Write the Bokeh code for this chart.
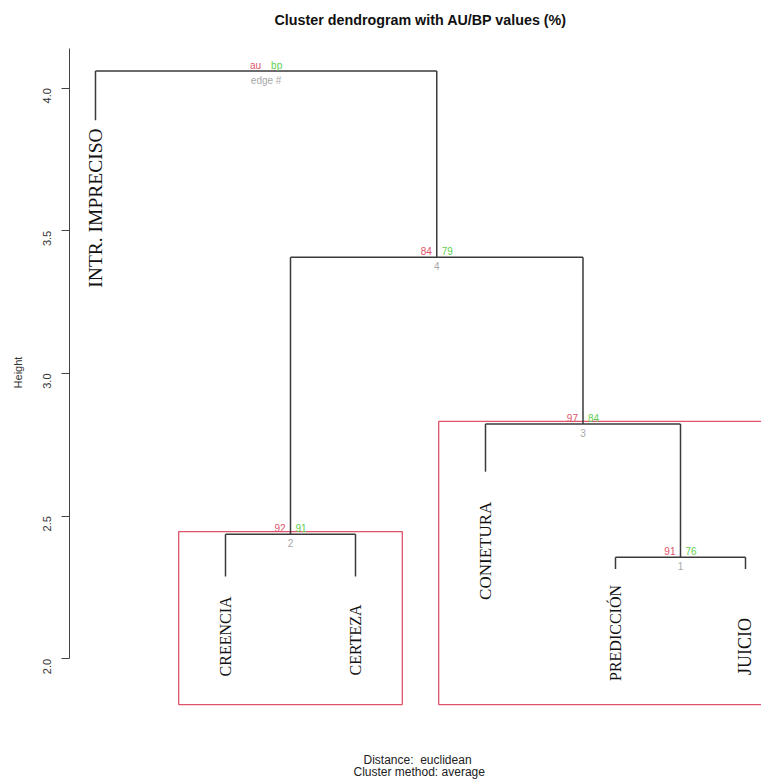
import math

from bokeh.core.properties import value
from bokeh.embed import file_html
from bokeh.models import ColumnDataSource, FixedTicker, PrintfTickFormatter, Range1d, Title
from bokeh.plotting import figure
from bokeh.resources import INLINE

# Leaves, in dendrogram order, and the height where each leaf branch stops
leaf_labels = ["INTR. IMPRECISO", "CREENCIA", "CERTEZA", "CONIETURA", "PREDICCIÓN", "JUICIO"]
leaf_ends = [3.887, 2.289, 2.289, 2.656, 2.315, 2.315]

# hclust-style merge table: negative = leaf (1-based position), positive = earlier merge
merge_left = [-5, -2, -4, 2, -1]
merge_right = [-6, -3, 1, 3, 4]
merge_heights = [2.356, 2.437, 2.823, 3.407, 4.060]

# Approximately unbiased / bootstrap probabilities (%) and edge numbers of the inner edges
au_values = [91, 92, 97, 84]
bp_values = [76, 91, 84, 79]
edge_ids = [1, 2, 3, 4]

# Legend written at the root node
root_legend = ["au", "bp", "edge #"]

y_ticks = [2.0, 2.5, 3.0, 3.5, 4.0]
au_threshold = 90

distance_name = "euclidean"
method_name = "average"

# ---- colours and layout ----
LINE = "#3a3a3a"
AU_COL = "#DF536B"
BP_COL = "#61D04F"
EDGE_COL = "#a8a8a8"
RECT_COL = "#DF536B"
label_gap_px = [8, 20, 28, 30, 16, 49]
label_size = ["19.5px", "16px", "16px", "17px", "16px", "18px"]

# ---- dendrogram geometry ----
leaf_x = [float(i + 1) for i in range(len(leaf_labels))]
node_x, node_members = [], []


def child_pos(c):
    if c < 0:
        return leaf_x[-c - 1], leaf_ends[-c - 1], [-c - 1]
    return node_x[c - 1], merge_heights[c - 1], node_members[c - 1]


seg = dict(x0=[], y0=[], x1=[], y1=[])
for l, r, h in zip(merge_left, merge_right, merge_heights):
    xl, hl, ml = child_pos(l)
    xr, hr, mr = child_pos(r)
    for a, b in ((xl, hl), (xr, hr)):
        seg["x0"].append(a); seg["y0"].append(b)
        seg["x1"].append(a); seg["y1"].append(h)
    seg["x0"].append(xl); seg["y0"].append(h)
    seg["x1"].append(xr); seg["y1"].append(h)
    node_x.append((xl + xr) / 2)
    node_members.append(ml + mr)

# clusters with au >= threshold, keeping only the largest ones
n_inner = len(au_values)
parent = {}
for i, (l, r) in enumerate(zip(merge_left, merge_right)):
    for c in (l, r):
        if c > 0:
            parent[c - 1] = i
rects = dict(left=[], right=[], top=[], bottom=[])
for i in range(n_inner):
    if au_values[i] < au_threshold:
        continue
    j, covered = i, False
    while j in parent:
        j = parent[j]
        if j < n_inner and au_values[j] >= au_threshold:
            covered = True
    if covered:
        continue
    mem = node_members[i]
    rects["left"].append(min(leaf_x[m] for m in mem) - 0.36)
    rects["right"].append(max(leaf_x[m] for m in mem) + 0.36)
    rects["top"].append(merge_heights[i] + 0.009)
    rects["bottom"].append(1.84)

# ---- figure ----
p = figure(
    width=761, height=780, output_backend="svg", toolbar_location=None,
    x_axis_location=None, min_border_left=69, min_border_right=0,
    min_border_top=36, min_border_bottom=71,
    x_range=Range1d(0.8, 6.1231), y_range=Range1d(1.8261, 4.1809),
)
p.outline_line_color = None
p.grid.visible = False
p.background_fill_color = "white"
p.border_fill_color = "white"

p.title.text = "Cluster dendrogram with AU/BP values (%)"
p.title.align = "left"
p.title.offset = 205
p.title.standoff = 17
p.title.text_font = "Liberation Sans"
p.title.text_font_size = "14.3px"
p.title.text_font_style = "bold"
p.title.text_color = "#111111"

# two-line caption under the plot; blank lines push it down, the short first line
# is indented so both lines sit centred under each other
NB = "\u00a0"
caption = "\n".join([NB] * 4 + [NB * 3 + "Distance:" + NB + " " + distance_name,
                                 "Cluster method: " + method_name])
p.add_layout(Title(text=caption, align="left", offset=284, standoff=0,
                   vertical_align="top", text_font="Liberation Sans",
                   text_font_size="12px", text_font_style="normal",
                   text_line_height=0.8, text_color="#222222"), "below")

ax = p.yaxis[0]
ax.ticker = FixedTicker(ticks=y_ticks)
ax.formatter = PrintfTickFormatter(format="%.1f")
ax.bounds = (2.0, 4.14)
ax.major_tick_out = 8
ax.major_tick_in = 0
ax.minor_tick_line_color = None
ax.major_label_orientation = math.pi / 2
ax.major_label_standoff = 14
ax.major_label_text_font = "Liberation Sans"
ax.major_label_text_font_size = "11px"
ax.major_label_text_color = "#333333"
ax.axis_line_color = "#444444"
ax.major_tick_line_color = "#444444"
ax.axis_label = "Height"
ax.axis_label_standoff = 13
ax.axis_label_text_font = "Liberation Sans"
ax.axis_label_text_font_size = "11px"
ax.axis_label_text_font_style = "normal"
ax.axis_label_text_color = "#333333"

p.quad(source=ColumnDataSource(rects), left="left", right="right", top="top", bottom="bottom",
       fill_color=None, line_color=RECT_COL, line_width=1.3)

p.segment(source=ColumnDataSource(seg), x0="x0", y0="y0", x1="x1", y1="y1",
          line_color=LINE, line_width=1.5)

leaf_src = ColumnDataSource(dict(x=leaf_x, y=leaf_ends, text=leaf_labels,
                                 gap=label_gap_px, size=label_size))
p.text(source=leaf_src, x="x", y="y", text="text", y_offset="gap", angle=math.pi / 2,
       text_align="right", text_baseline="middle", text_font=value("Liberation Serif"),
       text_font_size="size", text_color="#111111")

node_src = ColumnDataSource(dict(
    x=node_x, y=merge_heights,
    au=[str(v) for v in au_values] + [root_legend[0]],
    bp=[str(v) for v in bp_values] + [root_legend[1]],
    edge=[str(v) for v in edge_ids] + [root_legend[2]],
))
small = dict(text_font=value("Liberation Sans"), text_font_size="10px")
p.text(source=node_src, x="x", y="y", text="au", x_offset=-5, y_offset=-6,
       text_align="right", text_baseline="middle", text_color=AU_COL, **small)
p.text(source=node_src, x="x", y="y", text="bp", x_offset=5, y_offset=-6,
       text_align="left", text_baseline="middle", text_color=BP_COL, **small)
p.text(source=node_src, x="x", y="y", text="edge", y_offset=9,
       text_align="center", text_baseline="middle", text_color=EDGE_COL, **small)

open("out.html", "w").write(file_html(p, INLINE))
